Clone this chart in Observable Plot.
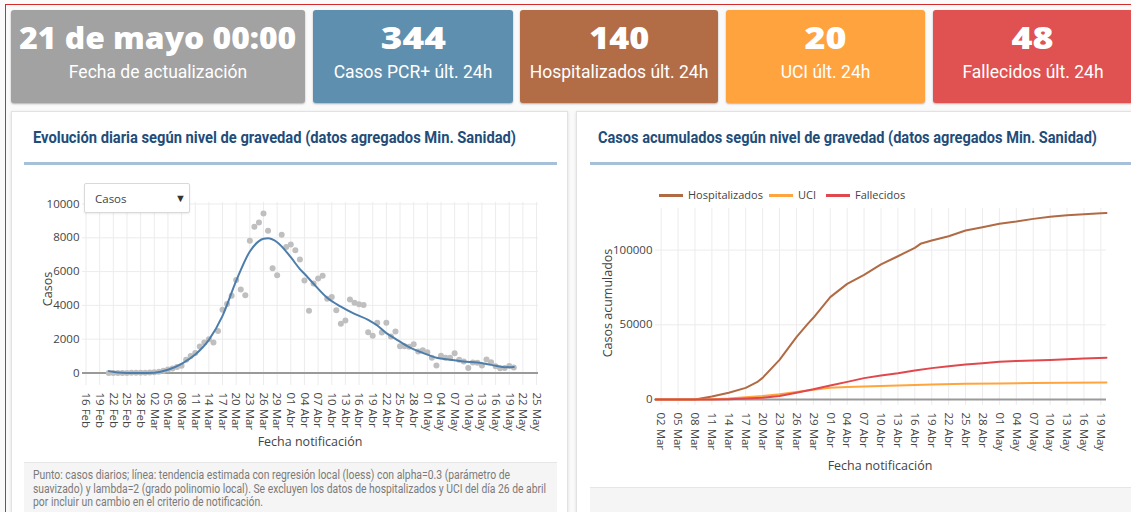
<!DOCTYPE html>
<html><head><meta charset="utf-8">
<script src="https://cdn.jsdelivr.net/npm/d3@7"></script>
<script src="https://cdn.jsdelivr.net/npm/@observablehq/plot@0.6"></script>
<style>
html,body{margin:0;padding:0;}
body{width:1131px;height:512px;overflow:hidden;background:#fafafa;position:relative;font-family:"Open Sans",sans-serif;}
.redframe{position:absolute;left:5px;top:4px;width:1200px;height:600px;border:1px solid #d62a2a;box-sizing:border-box;}
.box{position:absolute;top:10px;height:93px;border-radius:3px;color:#fff;text-align:center;box-shadow:0 1px 2px rgba(0,0,0,.3);}
.box .v{position:absolute;left:0;right:0;top:11px;line-height:34px;font-family:"Open Sans",sans-serif;font-weight:800;font-size:30px;}
.box .v span{display:inline-block;transform-origin:50% 50%;white-space:nowrap;}
.box .s{position:absolute;left:0;right:0;top:52px;line-height:20px;font-family:Roboto,sans-serif;font-size:17.5px;}
.panel{position:absolute;top:111px;height:420px;background:#fff;border:1px solid #e2e2e2;box-shadow:0 1px 3px rgba(0,0,0,.12);}
.title{position:absolute;top:129px;font-family:Roboto,sans-serif;font-weight:700;font-size:16px;color:#1f4d7a;white-space:nowrap;line-height:18px;transform-origin:0 50%;}
.rule{position:absolute;top:162px;height:3px;background:#a5c0d8;}
.foot{position:absolute;background:#f5f5f5;border-top:1px solid #e6e6e6;}
.fl{position:absolute;left:33px;font-family:Roboto,sans-serif;font-size:12px;line-height:13px;color:#7a7a7a;white-space:nowrap;transform-origin:0 50%;}
.axt{position:absolute;font-family:"Open Sans",sans-serif;font-size:12.5px;color:#444;white-space:nowrap;}
.leg{position:absolute;top:189px;font-family:"Open Sans",sans-serif;font-size:11px;color:#444;line-height:12px;white-space:nowrap;}
.sw{position:absolute;top:194px;width:24px;height:2.5px;}
.sel{position:absolute;left:84px;top:183px;width:104px;height:28px;background:#fff;border:1px solid #d9d9d9;border-radius:2px;box-shadow:0 1px 2px rgba(0,0,0,.08);}
.sel span{position:absolute;left:10px;top:7px;font-family:"Open Sans",sans-serif;font-size:11.5px;color:#444;}
.sel b{position:absolute;right:3px;top:6px;font-size:11px;color:#333;}
.chart{position:absolute;}
</style></head>
<body>
<div class="redframe"></div>

<div class="box" style="left:11px;width:294px;background:#a2a2a2"><div class="v"><span id="v0"></span></div><div class="s" id="s0"></div></div>
<div class="box" style="left:313px;width:200px;background:#5f8faf"><div class="v"><span id="v1"></span></div><div class="s" id="s1"></div></div>
<div class="box" style="left:520px;width:198px;background:#b26d47"><div class="v"><span id="v2"></span></div><div class="s" id="s2"></div></div>
<div class="box" style="left:726px;width:199px;background:#ffa33f"><div class="v"><span id="v3"></span></div><div class="s" id="s3"></div></div>
<div class="box" style="left:933px;width:200px;background:#e05151"><div class="v"><span id="v4"></span></div><div class="s" id="s4"></div></div>

<div class="panel" style="left:11px;width:555px"></div>
<div class="panel" style="left:576px;width:570px"></div>

<div class="title" id="t0" style="left:33px">Evolución diaria según nivel de gravedad (datos agregados Min. Sanidad)</div>
<div class="title" id="t1" style="left:598px">Casos acumulados según nivel de gravedad (datos agregados Min. Sanidad)</div>
<div class="rule" style="left:24px;width:533px"></div>
<div class="rule" style="left:590px;width:541px"></div>

<div class="foot" style="left:24px;top:462px;width:533px;height:60px"></div>
<div class="fl" id="f0" style="top:469px">Punto: casos diarios; línea: tendencia estimada con regresión local (loess) con alpha=0.3 (parámetro de</div>
<div class="fl" id="f1" style="top:483px">suavizado) y lambda=2 (grado polinomio local). Se excluyen los datos de hospitalizados y UCI del día 26 de abril</div>
<div class="fl" id="f2" style="top:496px">por incluir un cambio en el criterio de notificación.</div>
<div class="foot" style="left:590px;top:487px;width:541px;height:40px"></div>

<div id="left" class="chart" style="left:20px;top:190px"></div>
<div id="right" class="chart" style="left:590px;top:190px"></div>

<div class="sel"><span>Casos</span><b>▼</b></div>

<div class="axt" style="left:310px;top:441px;transform:translate(-50%,-50%)">Fecha notificación</div>
<div class="axt" style="left:47px;top:289px;transform:translate(-50%,-50%) rotate(-90deg)">Casos</div>
<div class="axt" style="left:880px;top:465px;transform:translate(-50%,-50%)">Fecha notificación</div>
<div class="axt" style="left:607px;top:303px;transform:translate(-50%,-50%) rotate(-90deg)">Casos acumulados</div>

<div id="legend"></div>

<script>
// ---------- header values ----------
const cajaValores = ["21 de mayo 00:00", "344", "140", "20", "48"];
const cajaTextos = ["Fecha de actualización", "Casos PCR+ últ. 24h", "Hospitalizados últ. 24h", "UCI últ. 24h", "Fallecidos últ. 24h"];

// ---------- left chart: daily cases ----------
const casosInicio = "2020-02-21";
const casosDiarios = [
  0, 0, 0, 2, 5, 8, 10, 15, 20,                       // 21-29 Feb
  30, 50, 70, 130, 200, 260, 360, 430, 780, 1000,     // 1-10 Mar
  1190, 1570, 1800, 2000, 1800, 2480, 3740, 4090, 4570, 5510, // 11-20 Mar
  4940, 4600, 7820, 8650, 8900, 9440, 8410, 6200, 5790, 8180, 7450, // 21-31 Mar
  7600, 7270, 6720, 5470, 3680, 5290, 5590, 5750, 4390, 4490, // 1-10 Abr
  3720, 2910, 3110, 4350, 4150, 4070, 4030, 2410, 2200, 2970, // 11-20 Abr
  2390, 2970, 2160, 2460, 1590, 1590, 1550, 1700, 1270, 1350, // 21-30 Abr
  1230, 900, 440, 1020, 900, 900, 1170, 780, 680, 300,        // 1-10 May
  620, 600, 440, 800, 640, 400, 280, 300, 420, 320            // 11-20 May
];
const tendenciaFechas = ["2020-02-21","2020-02-23","2020-02-25","2020-02-28","2020-03-02","2020-03-05","2020-03-08","2020-03-11","2020-03-14","2020-03-17","2020-03-20","2020-03-23","2020-03-25","2020-03-26","2020-03-27","2020-03-29","2020-04-01","2020-04-03","2020-04-04","2020-04-06","2020-04-09","2020-04-12","2020-04-15","2020-04-18","2020-04-20","2020-04-22","2020-04-24","2020-04-27","2020-04-30","2020-05-03","2020-05-06","2020-05-09","2020-05-12","2020-05-15","2020-05-18","2020-05-20"];
const tendenciaValores = [110, 30, 5, 0, 20, 190, 540, 1090, 1960, 3380, 5450, 7190, 7800, 7940, 7970, 7740, 6850, 6150, 5870, 5280, 4450, 3930, 3500, 3150, 2810, 2360, 2020, 1530, 1190, 900, 780, 680, 620, 480, 340, 360];
const ticksIzq = ["2020-02-16","2020-02-19","2020-02-22","2020-02-25","2020-02-28","2020-03-02","2020-03-05","2020-03-08","2020-03-11","2020-03-14","2020-03-17","2020-03-20","2020-03-23","2020-03-26","2020-03-29","2020-04-01","2020-04-04","2020-04-07","2020-04-10","2020-04-13","2020-04-16","2020-04-19","2020-04-22","2020-04-25","2020-04-28","2020-05-01","2020-05-04","2020-05-07","2020-05-10","2020-05-13","2020-05-16","2020-05-19","2020-05-22","2020-05-25"];
const ticksYIzq = [0, 2000, 4000, 6000, 8000, 10000];

// ---------- right chart: cumulative ----------
const series = ["Hospitalizados", "UCI", "Fallecidos"];
const coloresSeries = ["#b06b45", "#ffa53f", "#e0484d"];
const hospFechas = ["2020-03-01","2020-03-08","2020-03-11","2020-03-14","2020-03-17","2020-03-19","2020-03-20","2020-03-23","2020-03-26","2020-03-28","2020-03-29","2020-04-01","2020-04-04","2020-04-07","2020-04-10","2020-04-13","2020-04-16","2020-04-17","2020-04-19","2020-04-22","2020-04-25","2020-04-28","2020-05-01","2020-05-04","2020-05-07","2020-05-10","2020-05-13","2020-05-16","2020-05-19","2020-05-20"];
const hospValores = [0, 0, 2000, 4500, 7800, 11600, 14500, 26500, 41700, 50600, 54700, 68500, 77400, 83400, 90400, 95900, 101500, 104200, 106400, 109300, 113100, 115300, 117600, 119100, 120900, 122300, 123400, 124000, 124700, 124800];
const uciFechas = ["2020-03-01","2020-03-08","2020-03-11","2020-03-14","2020-03-17","2020-03-20","2020-03-23","2020-03-26","2020-03-29","2020-04-01","2020-04-04","2020-04-07","2020-04-13","2020-04-19","2020-04-25","2020-05-01","2020-05-07","2020-05-13","2020-05-20"];
const uciValores = [0, 0, 200, 700, 1500, 2300, 3500, 5000, 6600, 7800, 8300, 8700, 9400, 10000, 10500, 10700, 11000, 11200, 11400];
const fallFechas = ["2020-03-01","2020-03-08","2020-03-11","2020-03-14","2020-03-17","2020-03-20","2020-03-23","2020-03-26","2020-03-29","2020-04-01","2020-04-04","2020-04-07","2020-04-10","2020-04-13","2020-04-16","2020-04-19","2020-04-22","2020-04-25","2020-04-28","2020-05-01","2020-05-04","2020-05-07","2020-05-10","2020-05-13","2020-05-16","2020-05-20"];
const fallValores = [0, 0, 50, 250, 600, 1100, 2400, 4500, 6800, 9400, 11800, 14300, 16100, 17600, 19400, 21000, 22300, 23400, 24300, 25200, 25700, 26100, 26500, 26900, 27400, 27900];
const ticksDer = ["2020-03-02","2020-03-05","2020-03-08","2020-03-11","2020-03-14","2020-03-17","2020-03-20","2020-03-23","2020-03-26","2020-03-29","2020-04-01","2020-04-04","2020-04-07","2020-04-10","2020-04-13","2020-04-16","2020-04-19","2020-04-22","2020-04-25","2020-04-28","2020-05-01","2020-05-04","2020-05-07","2020-05-10","2020-05-13","2020-05-16","2020-05-19"];
const ticksYDer = [0, 50000, 100000];

const meses = ["Ene","Feb","Mar","Abr","May","Jun","Jul","Ago","Sep","Oct","Nov","Dic"];

// ---------- build ----------
cajaValores.forEach((v, i) => {
  document.getElementById("v" + i).textContent = v;
  document.getElementById("s" + i).textContent = cajaTextos[i];
});

// narrow/widen texts to the reference widths (the original uses fonts not installed here)
function ajustar(id, ancho) {
  const el = document.getElementById(id);
  const w = el.getBoundingClientRect().width;
  if (w > 0) el.style.transform = `scaleX(${ancho / w})`;
}
[277, 65, 60, 42, 42].forEach((a, i) => ajustar("v" + i, a));
ajustar("t0", 483); ajustar("t1", 499);
ajustar("f0", 477); ajustar("f1", 513); ajustar("f2", 230);

const fecha = s => new Date(s + (s.length === 10 ? "T00:00:00Z" : "Z"));
const fmtFecha = d => String(d.getUTCDate()).padStart(2, "0") + " " + meses[d.getUTCMonth()];

const inicio = fecha(casosInicio);
const casos = casosDiarios.map((v, i) => ({fecha: d3.utcDay.offset(inicio, i), valor: v}));
const tendencia = tendenciaFechas.map((f, i) => ({fecha: fecha(f), valor: tendenciaValores[i]}));
const tIzq = ticksIzq.map(fecha);

const estilo = {fontFamily: "'Open Sans', sans-serif", fontSize: "11.5px", color: "#444", background: "transparent", overflow: "visible"};

const izq = Plot.plot({
  width: 530, height: 270,
  marginLeft: 62, marginRight: 12, marginTop: 12, marginBottom: 75,
  style: estilo,
  x: {type: "utc", domain: [fecha("2020-02-15T05:30:00"), fecha("2020-05-25T10:20:00")], ticks: tIzq, tickFormat: fmtFecha, tickRotate: 90, tickSize: 0, tickPadding: 7, label: null},
  y: {domain: [-740, 10089], ticks: ticksYIzq, tickFormat: d => String(d), tickSize: 0, tickPadding: 3, label: null},
  marks: [
    Plot.ruleX(tIzq, {stroke: "#ececec", strokeWidth: 1}),
    Plot.ruleY(ticksYIzq.filter(d => d !== 0), {stroke: "#ececec", strokeWidth: 1}),
    Plot.ruleY([0], {stroke: "#9a9a9a", strokeWidth: 2}),
    Plot.dot(casos, {x: "fecha", y: "valor", r: 3, fill: "#bfbfbf", stroke: "none"}),
    Plot.line(tendencia, {x: "fecha", y: "valor", stroke: "#4d7eab", strokeWidth: 2, curve: "monotone-x"})
  ]
});
document.getElementById("left").appendChild(izq);

const acum = [
  ...hospFechas.map((f, i) => ({serie: series[0], fecha: fecha(f), valor: hospValores[i]})),
  ...uciFechas.map((f, i) => ({serie: series[1], fecha: fecha(f), valor: uciValores[i]})),
  ...fallFechas.map((f, i) => ({serie: series[2], fecha: fecha(f), valor: fallValores[i]}))
];
const tDer = ticksDer.map(fecha);

const der = Plot.plot({
  width: 541, height: 275,
  marginLeft: 65, marginRight: 25, marginTop: 18, marginBottom: 60,
  style: estilo,
  x: {type: "utc", domain: [fecha("2020-03-01"), fecha("2020-05-20")], ticks: tDer, tickFormat: fmtFecha, tickRotate: 90, tickSize: 0, tickPadding: 7, label: null},
  y: {domain: [-4016, 127845], ticks: ticksYDer, tickFormat: d => String(d), tickSize: 0, tickPadding: 3, label: null},
  color: {domain: series, range: coloresSeries},
  marks: [
    Plot.ruleX(tDer, {stroke: "#ececec", strokeWidth: 1}),
    Plot.ruleY(ticksYDer.filter(d => d !== 0), {stroke: "#ececec", strokeWidth: 1}),
    Plot.ruleY([0], {stroke: "#9a9a9a", strokeWidth: 2}),
    Plot.line(acum, {x: "fecha", y: "valor", z: "serie", stroke: "serie", strokeWidth: 2})
  ]
});
document.getElementById("right").appendChild(der);

// legend
const legX = [659, 769, 826];
const leg = document.getElementById("legend");
series.forEach((s, i) => {
  const sw = document.createElement("div");
  sw.className = "sw"; sw.style.left = legX[i] + "px"; sw.style.background = coloresSeries[i];
  leg.appendChild(sw);
  const t = document.createElement("div");
  t.className = "leg"; t.style.left = (legX[i] + 29) + "px"; t.textContent = s;
  leg.appendChild(t);
});
</script>
</body></html>
